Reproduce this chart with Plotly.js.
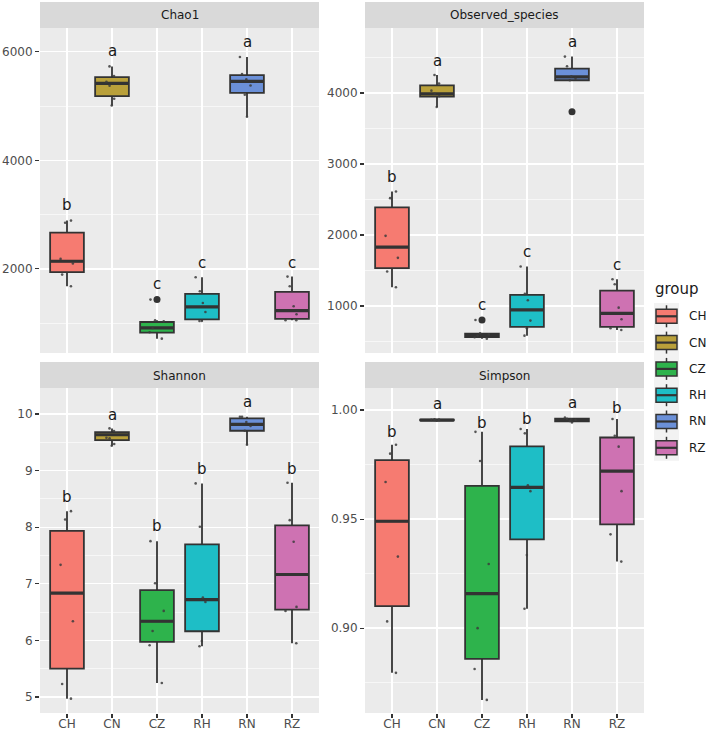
<!DOCTYPE html>
<html><head><meta charset="utf-8">
<script src="https://cdn.plot.ly/plotly-3.0.1.min.js"></script>
<style>html,body{margin:0;padding:0;background:#fff}#chart{width:708px;height:732px}</style>
</head><body><div id="chart"></div>
<script>
// ---------------- DATA ----------------
const categories = ['CH','CN','CZ','RH','RN','RZ'];
const panelTitles = ['Chao1','Observed_species','Shannon','Simpson'];
const legendTitle = 'group';

// Chao1
const chaoQ1  = [1940, 5183, 827, 1073, 5244, 1079];
const chaoMed = [2142, 5416, 913, 1300, 5453, 1232];
const chaoQ3  = [2670, 5533, 1023, 1539, 5570, 1576];
const chaoLo  = [1680, 5011, 716, 1042, 4802, 1054];
const chaoHi  = [2890, 5730, 1054, 1847, 5902, 1859];
const chaoPoints = [
  [2890, 2850, 2185, 2100, 1896, 1680],
  [5730, 5551, 5447, 5373, 5134, 5011],
  [1435, 1054, 1035, 913, 833, 716],
  [1847, 1589, 1374, 1208, 1042, 1042],
  [5902, 5588, 5490, 5379, 5207, 4802],
  [1859, 1681, 1312, 1165, 1054, 1054]
];
const chaoLetters = ['b','a','c','c','a','c'];
const chaoLetterY = [3051, 5877, 1589, 1988, 6043, 1988];

// Observed_species
const obsQ1  = [1532, 3948, 562, 705, 4179, 705];
const obsMed = [1828, 3986, 588, 944, 4226, 897];
const obsQ3  = [2388, 4108, 612, 1156, 4343, 1217];
const obsLo  = [1264, 3803, 540, 582, 4179, 662];
const obsHi  = [2613, 4254, 615, 1556, 4512, 1377];
const obsPoints = [
  [2613, 2519, 1988, 1678, 1485, 1264],
  [4254, 4132, 4033, 3990, 3953, 3803],
  [803, 615, 600, 585, 560, 540],
  [1556, 1170, 1081, 794, 686, 582],
  [4512, 4376, 4235, 4200, 4179, 3737],
  [1377, 1306, 977, 813, 686, 662]
];
const obsLetters = ['b','a','c','c','a','c'];
const obsLetterY = [2717, 4353, 921, 1659, 4621, 1485];

// Shannon
const shQ1  = [5.501, 9.540, 5.973, 6.162, 9.705, 6.545];
const shMed = [6.834, 9.634, 6.338, 6.722, 9.817, 7.164];
const shQ3  = [7.936, 9.682, 6.887, 7.695, 9.923, 8.031];
const shLo  = [4.971, 9.440, 5.248, 5.896, 9.458, 5.949];
const shHi  = [8.284, 9.746, 7.754, 8.774, 9.953, 8.785];
const shPoints = [
  [8.284, 8.137, 7.335, 6.338, 5.230, 4.971],
  [9.746, 9.700, 9.580, 9.570, 9.470, 9.440],
  [7.754, 7.011, 6.521, 6.167, 5.914, 5.248],
  [8.774, 8.007, 6.757, 6.680, 5.990, 5.896],
  [9.953, 9.950, 9.858, 9.788, 9.705, 9.458],
  [8.785, 8.125, 7.742, 6.592, 6.521, 5.949]
];
const shLetters = ['b','a','b','b','a','b'];
const shLetterY = [8.408, 9.864, 7.889, 8.903, 10.088, 8.903];

// Simpson
const siQ1  = [0.9101, 0.9953, 0.8859, 0.9407, 0.9948, 0.9476];
const siMed = [0.9490, 0.9954, 0.9158, 0.9645, 0.9955, 0.9720];
const siQ3  = [0.9770, 0.9956, 0.9652, 0.9833, 0.9960, 0.9874];
const siLo  = [0.8795, 0.9951, 0.8671, 0.9089, 0.9943, 0.9305];
const siHi  = [0.9841, 0.9957, 0.9900, 0.9913, 0.9965, 0.9959];
const siPoints = [
  [0.9841, 0.9800, 0.9670, 0.9328, 0.9031, 0.8795],
  [0.9957, 0.9956, 0.9955, 0.9954, 0.9953, 0.9951],
  [0.9900, 0.9766, 0.9294, 0.9000, 0.8813, 0.8671],
  [0.9913, 0.9893, 0.9655, 0.9628, 0.9335, 0.9089],
  [0.9965, 0.9960, 0.9957, 0.9955, 0.9950, 0.9943],
  [0.9959, 0.9882, 0.9832, 0.9628, 0.9430, 0.9305]
];
const siLetters = ['b','a','b','b','a','b'];
const siLetterY = [0.98652, 0.99969, 0.99081, 0.9928, 1.0000, 0.9977];

// ---------------- STYLE ----------------
const fillColors = ['#F67B71','#B9A03A','#2EB34C','#1EBEC6','#6B90D8','#CE72B2'];
const FONT = 'DejaVu Sans, Liberation Sans, sans-serif';
const W = 708, H = 732;
const px = v => v / W, py = v => 1 - v / H;
const colsPx = [[40, 319], [365, 644]];
const rowsPx = [[28, 353], [388, 713]];
const stripsPx = [[2, 28], [362, 388]];

const panels = [
  {q1: chaoQ1, med: chaoMed, q3: chaoQ3, lo: chaoLo, hi: chaoHi, pts: chaoPoints, let: chaoLetters, letY: chaoLetterY,
   range: [452, 6437], dtick: 2000, minor: 1000, fmt: 'd'},
  {q1: obsQ1, med: obsMed, q3: obsQ3, lo: obsLo, hi: obsHi, pts: obsPoints, let: obsLetters, letY: obsLetterY,
   range: [338, 4915], dtick: 1000, minor: 500, fmt: 'd'},
  {q1: shQ1, med: shMed, q3: shQ3, lo: shLo, hi: shHi, pts: shPoints, let: shLetters, letY: shLetterY,
   range: [4.717, 10.46], dtick: 1, minor: 0.5, fmt: 'd'},
  {q1: siQ1, med: siMed, q3: siQ3, lo: siLo, hi: siHi, pts: siPoints, let: siLetters, letY: siLetterY,
   range: [0.8611, 1.0101], dtick: 0.05, minor: 0.025, fmt: '.2f'}
];

const traces = [];
const annotations = [];
const shapes = [];
const layout = {
  width: W, height: H,
  margin: {l: 0, r: 0, t: 0, b: 0},
  paper_bgcolor: '#ffffff',
  plot_bgcolor: '#ebebeb',
  showlegend: false,
  boxmode: 'overlay',
  font: {family: FONT, size: 12, color: '#4d4d4d'},
  annotations: annotations,
  shapes: shapes
};

panels.forEach((p, k) => {
  const s = k === 0 ? '' : String(k + 1);
  const xa = 'x' + s, ya = 'y' + s;
  const col = colsPx[k % 2], row = rowsPx[Math.floor(k / 2)], strip = stripsPx[Math.floor(k / 2)];
  const bottom = Math.floor(k / 2) === 1;

  // boxes
  categories.forEach((c, i) => {
    traces.push({
      type: 'box', xaxis: xa, yaxis: ya, x: [c],
      q1: [p.q1[i]], median: [p.med[i]], q3: [p.q3[i]],
      lowerfence: [p.lo[i]], upperfence: [p.hi[i]],
      width: 0.75, whiskerwidth: 0, boxpoints: false,
      fillcolor: fillColors[i], line: {color: '#333333', width: 1.8},
      hoverinfo: 'skip', showlegend: false
    });
  });
  // thick median lines
  traces.push({
    type: 'box', xaxis: xa, yaxis: ya, x: categories,
    q1: p.med, median: p.med, q3: p.med, lowerfence: p.med, upperfence: p.med,
    width: 0.75, whiskerwidth: 0, boxpoints: false,
    fillcolor: '#333333', line: {color: '#333333', width: 3.2},
    hoverinfo: 'skip', showlegend: false
  });
  // jittered points
  const jx = [], jy = [];
  p.pts.forEach((arr, i) => arr.forEach(v => { jx.push(categories[i]); jy.push(v); }));
  traces.push({
    type: 'box', xaxis: xa, yaxis: ya, x: jx, y: jy,
    boxpoints: 'all', jitter: 0.45, pointpos: 0, width: 0.75, whiskerwidth: 0,
    fillcolor: 'rgba(0,0,0,0)', line: {color: 'rgba(0,0,0,0)', width: 0},
    marker: {color: 'rgba(60,60,60,0.85)', size: 2.6},
    hoverinfo: 'skip', showlegend: false
  });
  // outliers (points beyond whiskers)
  const ox = [], oy = [];
  p.pts.forEach((arr, i) => arr.forEach(v => {
    if (v > p.hi[i] || v < p.lo[i]) { ox.push(categories[i]); oy.push(v); }
  }));
  traces.push({
    type: 'scatter', mode: 'markers', xaxis: xa, yaxis: ya, x: ox, y: oy,
    marker: {color: '#333333', size: 7}, hoverinfo: 'skip', showlegend: false
  });

  layout['xaxis' + s] = {
    domain: [px(col[0]), px(col[1])], anchor: ya,
    type: 'category', categoryorder: 'array', categoryarray: categories,
    range: [-0.6, categories.length - 0.4],
    showgrid: true, gridcolor: '#ffffff', gridwidth: 1.4, zeroline: false, showline: false,
    ticks: bottom ? 'outside' : '', ticklen: 4, tickwidth: 1.1, tickcolor: '#333333',
    ticklabelstandoff: -4,
    showticklabels: bottom, tickfont: {family: FONT, size: 12, color: '#4d4d4d'},
    fixedrange: true
  };
  layout['yaxis' + s] = {
    domain: [py(row[1]), py(row[0])], anchor: xa,
    range: p.range, tick0: 0, dtick: p.dtick, tickformat: p.fmt,
    showgrid: true, gridcolor: '#ffffff', gridwidth: 1.4, zeroline: false, showline: false,
    minor: {dtick: p.minor, tick0: 0, showgrid: true, gridcolor: '#ffffff', gridwidth: 0.6, ticks: ''},
    ticks: 'outside', ticklen: 4, tickwidth: 1.1, tickcolor: '#333333',
    tickfont: {family: FONT, size: 12, color: '#4d4d4d'},
    fixedrange: true
  };

  // strip
  shapes.push({type: 'rect', xref: 'paper', yref: 'paper',
    x0: px(col[0]), x1: px(col[1]), y0: py(strip[1]), y1: py(strip[0]),
    fillcolor: '#d9d9d9', line: {width: 0}, layer: 'below'});
  annotations.push({xref: 'paper', yref: 'paper', x: px((col[0] + col[1]) / 2), y: py((strip[0] + strip[1]) / 2 + 0.5),
    text: panelTitles[k], showarrow: false, xanchor: 'center', yanchor: 'middle',
    font: {family: FONT, size: 12, color: '#1a1a1a'}});

  // significance letters
  categories.forEach((c, i) => {
    annotations.push({xref: xa, yref: ya, x: c, y: p.letY[i], text: p.let[i],
      showarrow: false, xanchor: 'center', yanchor: 'bottom', yshift: -4,
      font: {family: FONT, size: 15, color: '#1a1a1a'}});
  });
});

// ---------------- LEGEND (drawn) ----------------
const legX0 = 654, legX1 = 679, keyTop = 303, keyStep = 26.3;
shapes.push({type: 'rect', xref: 'paper', yref: 'paper', x0: px(legX0), x1: px(legX1),
  y0: py(keyTop + keyStep * categories.length), y1: py(keyTop), fillcolor: '#f2f2f2', line: {width: 0}});
annotations.push({xref: 'paper', yref: 'paper', x: px(653), y: py(289), text: legendTitle,
  showarrow: false, xanchor: 'left', yanchor: 'middle', font: {family: FONT, size: 15, color: '#1a1a1a'}});
categories.forEach((c, i) => {
  const cy = keyTop + 13.3 + i * keyStep;
  const cx = 666.5;
  shapes.push({type: 'line', xref: 'paper', yref: 'paper', x0: px(cx), x1: px(cx), y0: py(cy - 11), y1: py(cy + 11),
    line: {color: '#333333', width: 1.5}});
  shapes.push({type: 'rect', xref: 'paper', yref: 'paper', x0: px(656), x1: px(677), y0: py(cy + 7), y1: py(cy - 7),
    fillcolor: fillColors[i], line: {color: '#333333', width: 1.5}});
  shapes.push({type: 'line', xref: 'paper', yref: 'paper', x0: px(656), x1: px(677), y0: py(cy), y1: py(cy),
    line: {color: '#333333', width: 2.2}});
  annotations.push({xref: 'paper', yref: 'paper', x: px(687), y: py(cy), text: c,
    showarrow: false, xanchor: 'left', yanchor: 'middle', font: {family: FONT, size: 12, color: '#1a1a1a'}});
});

Plotly.newPlot('chart', traces, layout, {staticPlot: true, displayModeBar: false});
</script>
</body></html>
